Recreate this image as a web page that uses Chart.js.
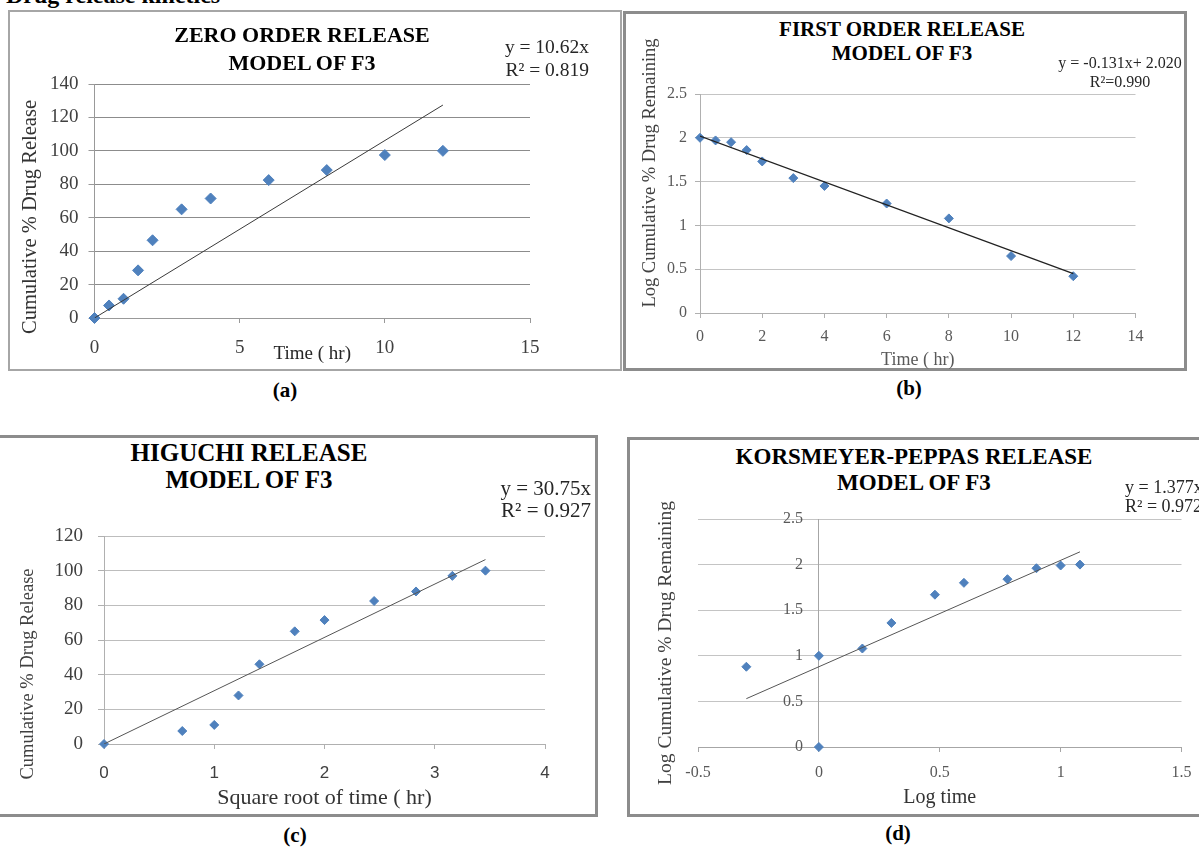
<!DOCTYPE html>
<html>
<head>
<meta charset="utf-8">
<title>Drug release kinetics</title>
<script src="https://cdn.jsdelivr.net/npm/chart.js@4.4.1/dist/chart.umd.min.js"></script>
<style>
  body { margin: 0; width: 1199px; height: 847px; position: relative; overflow: hidden; background: #fff; font-family: "Liberation Serif", "Times New Roman", serif; color: #000; }
  .abs { position: absolute; white-space: nowrap; }
  .panel { position: absolute; box-sizing: border-box; }
  .title { position: absolute; font-weight: bold; text-align: center; white-space: nowrap; width: 500px; }
  .eq { position: absolute; white-space: nowrap; color: #262626; }
  .ytitle { position: absolute; text-align: center; white-space: nowrap; width: 320px; line-height: 24px; transform: rotate(-90deg); color: #404040; }
  .cap { position: absolute; font-weight: bold; font-size: 21px; line-height: 24px; width: 60px; text-align: center; }
  canvas { position: absolute; }
</style>
</head>
<body>
<div class="abs" style="left:6px; top:-17px; font-size:24px; line-height:24px; font-weight:bold;">Drug release kinetics</div>

<!-- panel frames -->
<div class="panel" style="left:8px; top:10px; width:614px; height:361px; border:2px solid #a6a6a6;"></div>
<div class="panel" style="left:623px; top:11px; width:564px; height:360px; border:3px solid #8c8c8c;"></div>
<div class="panel" style="left:-10px; top:435px; width:608px; height:382px; border:3px solid #8c8c8c;"></div>
<div class="panel" style="left:627px; top:437px; width:600px; height:380px; border:3px solid #8c8c8c;"></div>

<canvas id="chartA" width="600" height="298" style="left:10px; top:70px;"></canvas>
<canvas id="chartB" width="555" height="296" style="left:626px; top:80px;"></canvas>
<canvas id="chartC" width="590" height="292" style="left:2px; top:520px;"></canvas>
<canvas id="chartD" width="569" height="312" style="left:630px; top:500px;"></canvas>

<!-- titles -->
<div class="title" style="left:52px; top:21px; font-size:22px; line-height:28px;">ZERO ORDER RELEASE<br>MODEL OF F3</div>
<div class="title" style="left:652px; top:17px; font-size:21px; line-height:24px;">FIRST ORDER RELEASE<br>MODEL OF F3</div>
<div class="title" style="left:-1px; top:439px; font-size:25px; line-height:27px;">HIGUCHI RELEASE<br>MODEL OF F3</div>
<div class="title" style="left:664px; top:444px; font-size:23px; line-height:26px;">KORSMEYER-PEPPAS RELEASE<br>MODEL OF F3</div>

<!-- trend line equations -->
<div class="eq" style="right:610px; top:35px; font-size:19.5px; line-height:23px; text-align:right;">y = 10.62x<br>R² = 0.819</div>
<div class="eq" style="left:1020px; width:200px; top:53px; font-size:16px; line-height:19px; text-align:center;">y = -0.131x+ 2.020<br>R²=0.990</div>
<div class="eq" style="right:608px; top:477px; font-size:21px; line-height:22px; text-align:right;">y = 30.75x<br>R² = 0.927</div>
<div class="eq" style="left:1125px; top:478px; font-size:18px; line-height:19px;">y = 1.377x<br>R² = 0.972</div>

<!-- y axis titles -->
<div class="ytitle" style="left:-131px; top:205px; font-size:20.5px; color:#333;">Cumulative % Drug Release</div>
<div class="ytitle" style="left:489px; top:161px; font-size:18.5px;">Log Cumulative % Drug Remaining</div>
<div class="ytitle" style="left:-133px; top:662px; font-size:18.5px;">Cumulative % Drug Release</div>
<div class="ytitle" style="left:505px; top:631px; font-size:19.5px;">Log Cumulative % Drug Remaining</div>

<!-- captions -->
<div class="cap" style="left:255px; top:378px;">(a)</div>
<div class="cap" style="left:879px; top:376px;">(b)</div>
<div class="cap" style="left:265px; top:823px;">(c)</div>
<div class="cap" style="left:868px; top:821px;">(d)</div>

<script>
// sampling times (hr) and release data
const timeHr = [0, 0.5, 1, 1.5, 2, 3, 4, 6, 8, 10, 12];
const cumRelease = [0, 7.5, 11.5, 28.5, 46.5, 65, 71.5, 82.5, 88.5, 97.5, 100];
const logRemaining = [2.0, 1.97, 1.95, 1.86, 1.73, 1.54, 1.45, 1.25, 1.08, 0.65, 0.42];
const sqrtTime = [0, 0.71, 1, 1.22, 1.41, 1.73, 2, 2.45, 2.83, 3.16, 3.46];
const higuchiRelease = [0, 7.5, 11, 28, 46, 65, 71.5, 82.5, 88, 97, 100];
const logTime = [-0.3, 0, 0, 0.18, 0.3, 0.48, 0.6, 0.78, 0.9, 1, 1.08];
const logKP = [0.88, 1.0, 0, 1.08, 1.36, 1.67, 1.8, 1.84, 1.96, 1.99, 2.0];

// trend line end points [x, y]
const zeroFit = [[0, 0], [12, 127.4]];
const firstFit = [[0, 2.02], [12, 0.45]];
const higuchiFit = [[0, 0], [3.46, 106.4]];
const kpFit = [[-0.3, 0.53], [1.08, 2.14]];

// axis tick settings [min, max, step]
const zeroX = [0, 15, 5], zeroY = [0, 140, 20];
const firstX = [0, 14, 2], firstY = [0, 2.5, 0.5];
const higuchiX = [0, 4, 1], higuchiY = [0, 120, 20];
const kpX = [-0.5, 1.5, 0.5], kpY = [0, 2.5, 0.5];

Chart.defaults.font.family = '"Liberation Serif", "Times New Roman", serif';

function toPoints(xs, ys) {
    return xs.map((x, i) => ({ x: x, y: ys[i] }));
}

function fitPoints(fit) {
    return fit.map(p => ({ x: p[0], y: p[1] }));
}

function tickText(v) {
    return String(Math.round(v * 100) / 100);
}

function makeChart(id, o) {
    const yScale = {
        type: 'linear',
        min: o.yRange[0], max: o.yRange[1],
        position: o.yPos || 'left',
        ticks: {
            stepSize: o.yRange[2], color: o.tickColor, padding: o.yPad, font: { size: o.yFont },
            callback: v => tickText(v) + (o.yGap || '')
        },
        grid: { color: o.gridColor, tickColor: o.axisColor, tickLength: o.yTick, drawTicks: o.yTick > 0 },
        border: { color: o.axisColor },
        afterFit: s => {
            if (o.yWidth) s.width = o.yWidth;
            s.paddingTop = 0;
            s.paddingBottom = 0;
        }
    };

    new Chart(document.getElementById(id), {
        type: 'scatter',
        data: {
            datasets: [
                {
                    data: fitPoints(o.fit),
                    showLine: true,
                    borderColor: o.lineColor,
                    borderWidth: o.lineWidth,
                    pointRadius: 0
                },
                {
                    data: o.points,
                    pointStyle: 'rectRot',
                    pointRadius: o.radius,
                    backgroundColor: '#4f81bd',
                    borderColor: '#4f81bd',
                    borderWidth: 1,
                    clip: false
                }
            ]
        },
        options: {
            responsive: false,
            animation: false,
            layout: { padding: o.padding },
            plugins: { legend: { display: false }, tooltip: { enabled: false } },
            scales: {
                x: {
                    type: 'linear',
                    min: o.xRange[0], max: o.xRange[1],
                    ticks: { stepSize: o.xRange[2], color: o.tickColor, padding: o.xPad, font: o.xFont, callback: tickText },
                    grid: { drawOnChartArea: false, color: o.axisColor, tickLength: 5 },
                    border: { color: o.axisColor },
                    title: { display: true, text: o.xTitle, color: o.xTitleColor, font: { size: o.xTitleSize }, padding: { top: 0, bottom: o.xTitlePad } },
                    afterFit: s => {
                        s.height = o.xHeight;
                        s.paddingLeft = 0;
                        s.paddingRight = 0;
                    }
                },
                y: yScale
            }
        }
    });
}

// (a) zero order
makeChart('chartA', {
    points: toPoints(timeHr, cumRelease), fit: zeroFit,
    xRange: zeroX, yRange: zeroY,
    padding: { left: 0, top: 14, right: 80, bottom: 0 },
    yWidth: 84.5, xHeight: 50,
    tickColor: '#404040', gridColor: '#8c8c8c', axisColor: '#999999',
    yFont: 19, xFont: { size: 19 }, yPad: 10, xPad: 14, yTick: 6,
    xTitle: 'Time ( hr)', xTitleColor: '#262626', xTitleSize: 19, xTitlePad: 3,
    lineColor: '#3a3a3a', lineWidth: 1, radius: 5.5
});

// (b) first order
makeChart('chartB', {
    points: toPoints(timeHr, logRemaining), fit: firstFit,
    xRange: firstX, yRange: firstY,
    padding: { left: 0, top: 14, right: 45.5, bottom: 0 },
    yWidth: 74, xHeight: 63,
    tickColor: '#595959', gridColor: '#c4c4c4', axisColor: '#b0b0b0',
    yFont: 16, xFont: { size: 16 }, yPad: 8, xPad: 9, yTick: 5,
    xTitle: 'Time ( hr)', xTitleColor: '#595959', xTitleSize: 18, xTitlePad: 5,
    lineColor: '#222222', lineWidth: 1.3, radius: 4.5
});

// (c) Higuchi
makeChart('chartC', {
    points: toPoints(sqrtTime, higuchiRelease), fit: higuchiFit,
    xRange: higuchiX, yRange: higuchiY,
    padding: { left: 0, top: 16, right: 47, bottom: 0 },
    yWidth: 102, xHeight: 68,
    tickColor: '#404040', gridColor: '#bdbdbd', axisColor: '#b0b0b0',
    yFont: 19, xFont: { size: 17, family: '"Liberation Sans", sans-serif' }, yPad: 15, xPad: 14, yTick: 6,
    xTitle: 'Square root of time ( hr)', xTitleColor: '#333333', xTitleSize: 22, xTitlePad: 1,
    lineColor: '#555555', lineWidth: 1, radius: 4.5
});

// (d) Korsmeyer-Peppas
makeChart('chartD', {
    points: toPoints(logTime, logKP), fit: kpFit,
    xRange: kpX, yRange: kpY,
    padding: { left: 68, top: 19, right: 17.5, bottom: 0 },
    yPos: { x: 0 }, xHeight: 65, yGap: '    ',
    tickColor: '#595959', gridColor: '#c4c4c4', axisColor: '#a6a6a6',
    yFont: 16, xFont: { size: 16 }, yPad: 0, xPad: 11, yTick: 0,
    xTitle: 'Log time', xTitleColor: '#333333', xTitleSize: 20, xTitlePad: 2,
    lineColor: '#555555', lineWidth: 1, radius: 4.5
});
</script>
</body>
</html>
